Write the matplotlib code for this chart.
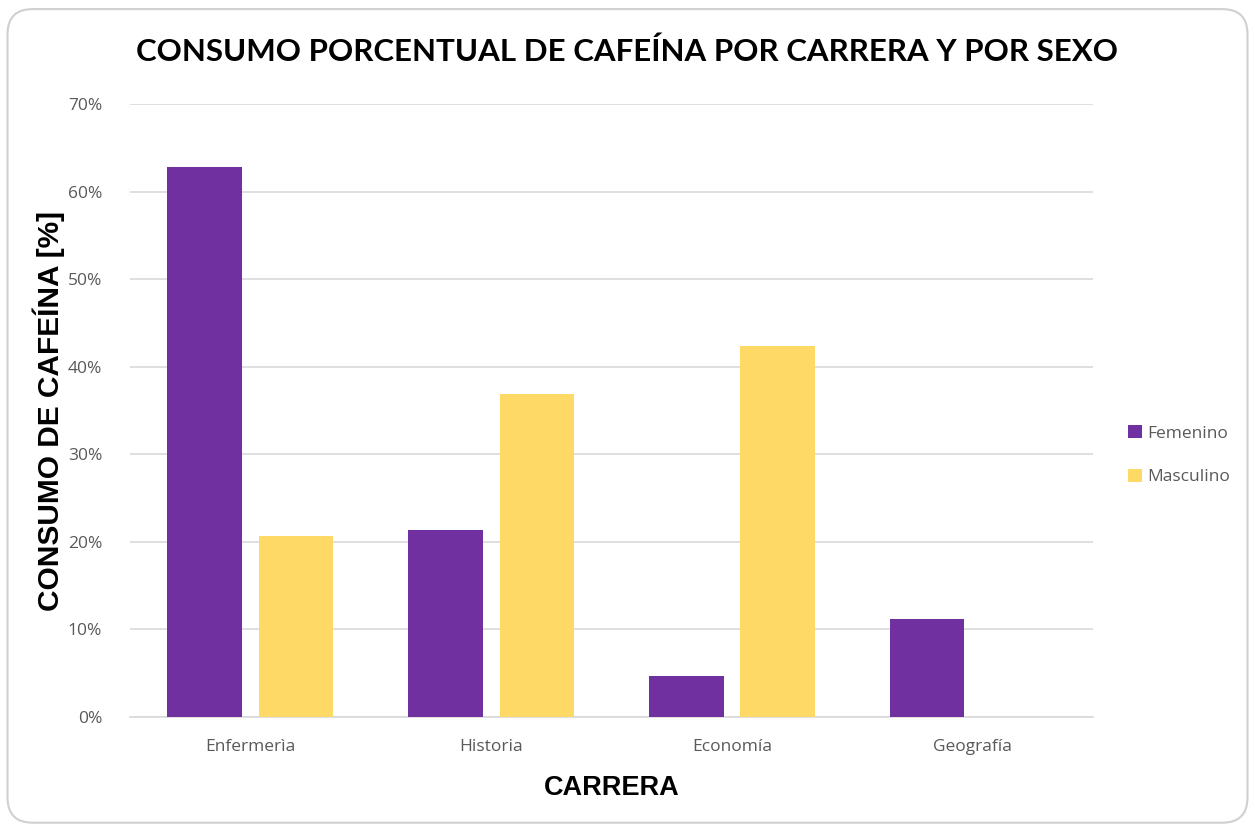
import numpy as np
import matplotlib
matplotlib.use("Agg")
import matplotlib.pyplot as plt
from matplotlib.patches import FancyBboxPatch
from matplotlib.ticker import PercentFormatter

carreras = ["Enfermerìa", "Historia", "Economía", "Geografía"]
femenino = [62.8, 21.4, 4.7, 11.2]
masculino = [20.7, 36.9, 42.4, 0.0]

purple = "#7030A0"
yellow = "#FFD966"
tick_col = "#595959"

fig = plt.figure(figsize=(12.55, 8.26), dpi=100)
fig.patch.set_facecolor("white")

# rounded chart border
border = FancyBboxPatch((0.006, 0.004), 0.988, 0.985,
                        boxstyle="round,pad=0,rounding_size=0.02",
                        transform=fig.transFigure, fill=False,
                        edgecolor="#D0D0D0", linewidth=1.5, mutation_aspect=1.52)
fig.patches.append(border)

ax = fig.add_axes([0.1036, 0.132, 0.7675, 0.742])

x = np.arange(len(carreras))
w = 0.31
ax.bar(x - 0.19, femenino, w, color=purple, label="Femenino", zorder=3)
ax.bar(x + 0.19, masculino, w, color=yellow, label="Masculino", zorder=3)

ax.set_xlim(-0.5, len(carreras) - 0.5)
ax.set_ylim(0, 70)
ax.set_yticks(np.arange(0, 71, 10))
ax.yaxis.set_major_formatter(PercentFormatter(decimals=0))
ax.grid(axis="y", color="#D9D9D9", linewidth=1.2, zorder=0)
for s in ["top", "right", "left"]:
    ax.spines[s].set_visible(False)
ax.spines["bottom"].set_color("#D9D9D9")
ax.spines["bottom"].set_linewidth(1.2)
ax.tick_params(axis="both", length=0, colors=tick_col, labelsize=12.5)
ax.tick_params(axis="y", pad=20)
ax.tick_params(axis="x", pad=16)
ax.set_xticks(x)
ax.set_xticklabels(carreras)
for lab in ax.get_xticklabels() + ax.get_yticklabels():
    lab.set_family("Open Sans")
    lab.set_color(tick_col)

ax.set_xlabel("CARRERA", fontsize=19.5, fontweight="bold",
              family="Liberation Sans", labelpad=14)
ax.set_ylabel("CONSUMO DE CAFEÍNA [%]", fontsize=21.5, fontweight="bold",
              family="Liberation Sans", labelpad=2)

fig.text(0.5, 0.937, "CONSUMO PORCENTUAL DE CAFEÍNA POR CARRERA Y POR SEXO",
         ha="center", va="center", fontsize=22.5, fontweight="bold", family="Lato")

leg = ax.legend(loc="center left", bbox_to_anchor=(1.02, 0.427), frameon=False,
                prop={"family": "Open Sans", "size": 12.5}, handlelength=0.8,
                handleheight=0.8, handletextpad=0.3, labelspacing=1.55)
for t in leg.get_texts():
    t.set_color(tick_col)

fig.savefig("out.png", dpi=100)
